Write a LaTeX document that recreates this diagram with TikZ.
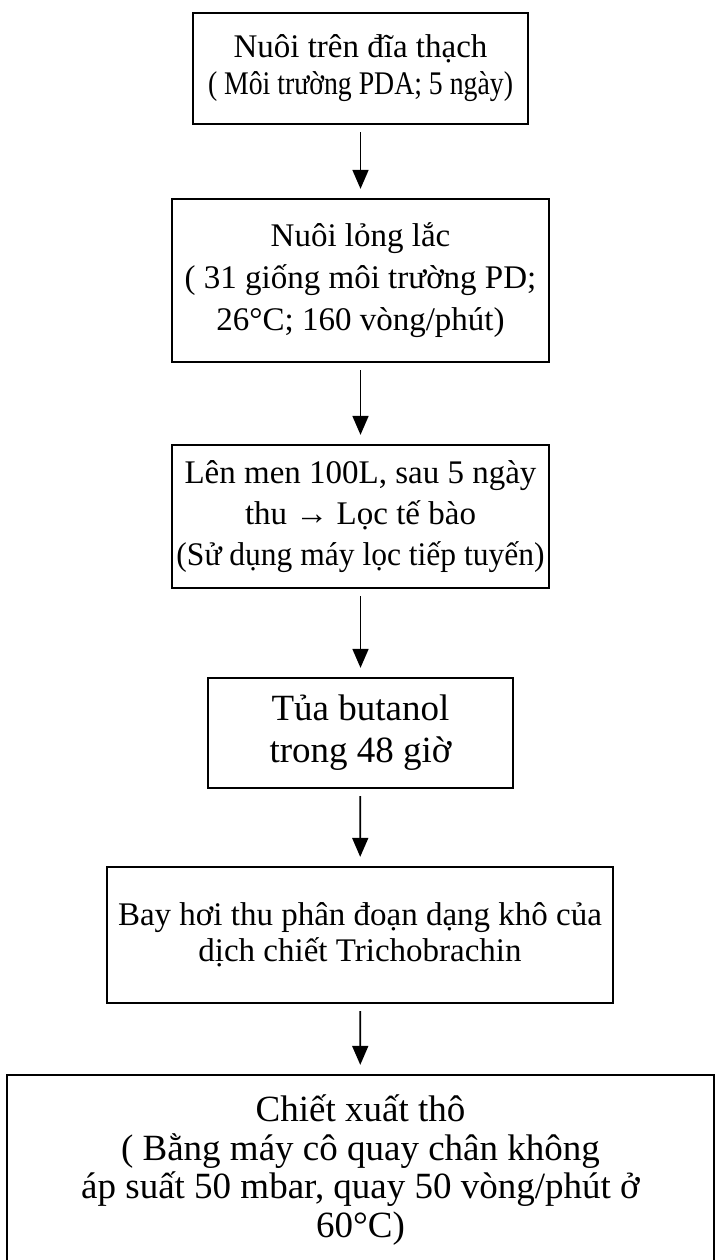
\documentclass[tikz,border=0pt]{standalone}
\usepackage{fontspec}
\usepackage{graphicx}
\setmainfont{Liberation Serif}
\usetikzlibrary{arrows.meta}
\newcommand{\fitw}[2]{\resizebox{#1pt}{\height}{#2}}
\begin{document}
\begin{tikzpicture}[x=1pt,y=-1pt,
  box/.style={draw, line width=2.3pt, inner sep=0pt, align=center, font=\fontsize{33}{41}\selectfont},
  flow/.style={-{Triangle[width=16pt,length=19pt]}, line width=1.8pt, shorten <=7pt, shorten >=9pt}]
\useasboundingbox (0,0) rectangle (721,1260);
\clip (0,0) rectangle (721,1260);
\node[box, minimum width=335pt, minimum height=111pt, font=\fontsize{33}{37}\selectfont] (b1) at (360.5,68.5)
  {Nuôi trên đĩa thạch\\\fitw{305}{( Môi trường PDA; 5 ngày)}};
\node[box, minimum width=377pt, minimum height=163pt, font=\fontsize{33}{42}\selectfont] (b2) at (360.5,280.5)
  {Nuôi lỏng lắc\\( 31 giống môi trường PD;\\26°C; 160 vòng/phút)};
\node[box, minimum width=377pt, minimum height=143pt, font=\fontsize{33}{41}\selectfont] (b3) at (360.5,516.5)
  {Lên men 100L, sau 5 ngày\\thu → Lọc tế bào\\\fitw{368}{(Sử dụng máy lọc tiếp tuyến)}};
\node[box, minimum width=305pt, minimum height=110pt, font=\fontsize{37}{42}\selectfont] (b4) at (360.5,733)
  {Tủa butanol\\trong 48 giờ};
\node[box, minimum width=506pt, minimum height=136pt, font=\fontsize{33}{36}\selectfont] (b5) at (360,935)
  {Bay hơi thu phân đoạn dạng khô của\\dịch chiết Trichobrachin};
\node[box, minimum width=707pt, minimum height=190pt, font=\fontsize{37}{38.5}\selectfont] (b6) at (360.5,1170)
  {Chiết xuất thô\\( Bằng máy cô quay chân không\\áp suất 50 mbar, quay 50 vòng/phút ở\\60°C)};
\draw[flow] (b1) -- (b2);
\draw[flow] (b2) -- (b3);
\draw[flow] (b3) -- (b4);
\draw[flow] (b4) -- (b5);
\draw[flow] (b5) -- (b6);
\end{tikzpicture}
\end{document}
